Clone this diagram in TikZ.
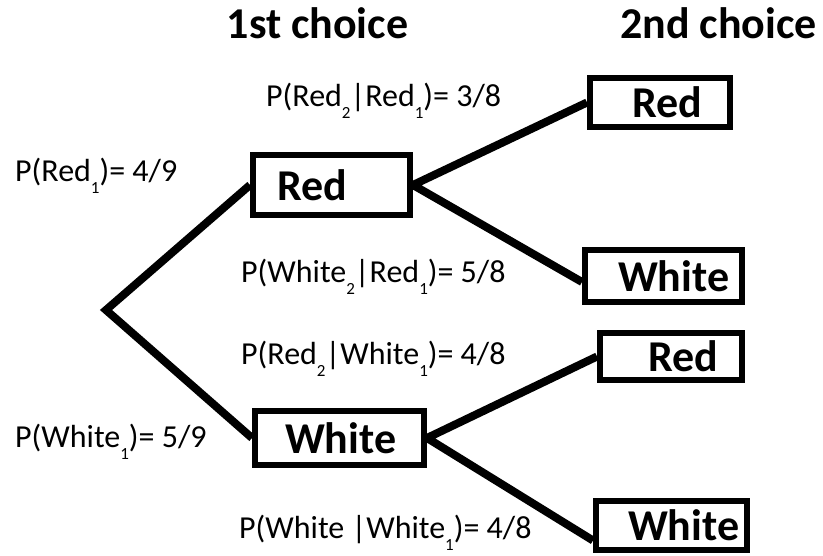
\documentclass[tikz,border=0pt]{standalone}
\usepackage{fontspec}
\setmainfont{Carlito}
\newcommand{\lowsub}[1]{\raisebox{-12pt}{\fontsize{17pt}{17pt}\selectfont #1}}
\begin{document}
\begin{tikzpicture}[x=1pt,y=-1pt,
  box/.style={draw, line width=6pt, rectangle, inner sep=0pt, align=left,
    font=\fontsize{44pt}{44pt}\selectfont\bfseries},
  head/.style={font=\fontsize{44pt}{44pt}\selectfont\bfseries, anchor=base, inner sep=0pt},
  prob/.style={font=\fontsize{32pt}{32pt}\selectfont, anchor=base west, inner sep=0pt},
  branch/.style={line width=8pt}]
\useasboundingbox (0,0) rectangle (823,556);
\fill[white] (0,0) rectangle (823,556);

% headers
\node[head] (h1) at (317.5,39) {1st choice};
\node[head] (h2) at (718.5,39) {2nd choice};

% boxes
\node[box, text width=157pt, minimum height=60pt] (r1) at (331.5,185) {\hspace*{24pt}Red};
\node[box, text width=169pt, minimum height=54pt] (w1) at (339.5,438) {\hspace*{30pt}White};
\node[box, text width=140pt, minimum height=49pt] (r2a) at (660,102.5) {\hspace*{42pt}Red};
\node[box, text width=157pt, minimum height=52pt] (w2a) at (663.5,276) {\hspace*{33pt}White};
\node[box, text width=151pt, minimum height=49pt] (w2b) at (671.5,525.5) {\hspace*{32pt}White};
\node[box, text width=142pt, minimum height=47pt] (r2b) at (671,356.5) {\hspace*{48pt}Red};

% branches
\coordinate (root) at (106,310);
\draw[branch] (r1.west) -- (root) -- (w1.west);
\draw[branch, line join=round] (r2a.west) -- (r1.east) -- ([yshift=-6pt]w2a.west);
\draw[branch, line join=round] (r2b.west) -- (w1.east) -- ([yshift=-15pt]w2b.west);

% probabilities
\node[prob] (pr1) at (15,182) {P(Red\lowsub{1})= 4/9};
\node[prob] (pw1) at (15,447) {P(White\lowsub{1})= 5/9};
\node[prob] (prr) at (266,107) {P(Red\lowsub{2}|Red\lowsub{1})= 3/8};
\node[prob] (pwr) at (241,283) {P(White\lowsub{2}|Red\lowsub{1})= 5/8};
\node[prob] (prw) at (241,365) {P(Red\lowsub{2}|White\lowsub{1})= 4/8};
\node[prob] (pww) at (239,538) {P(White |White\lowsub{1})= 4/8};
\end{tikzpicture}
\end{document}
